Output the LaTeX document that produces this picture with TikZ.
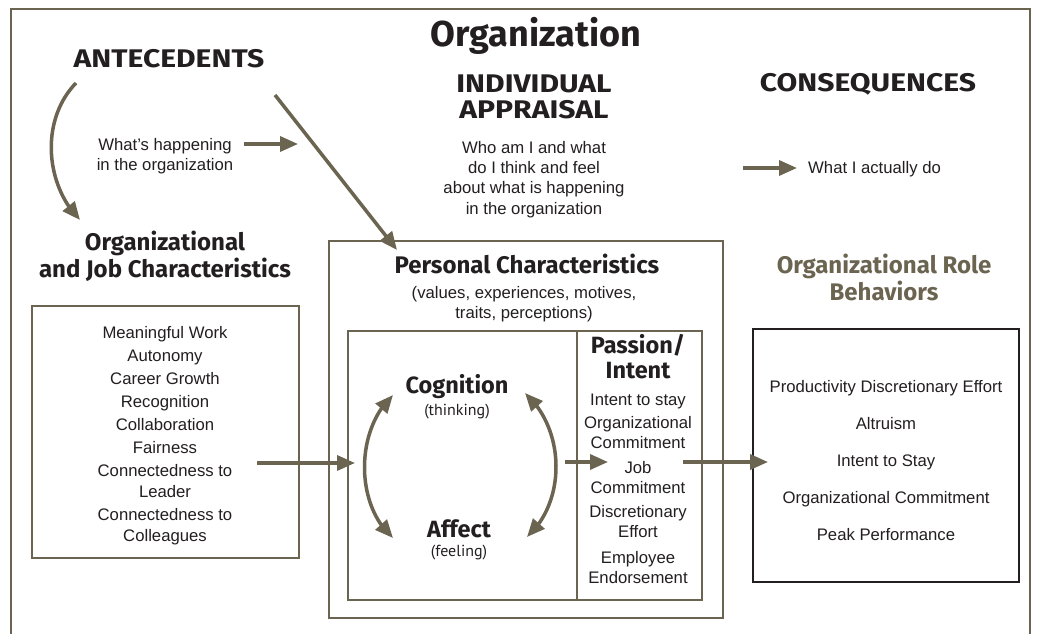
\documentclass[tikz,border=0pt]{standalone}
\usepackage{fontspec}
\setmainfont{Liberation Sans}
\newfontfamily\hf{Fira Sans}
\newfontfamily\hfw[FakeStretch=1.18]{Fira Sans}
\newfontfamily\pf{PT Sans}
\usetikzlibrary{arrows.meta,bending}
\definecolor{olive}{HTML}{6B6451}
\definecolor{ink}{HTML}{231F20}
\begin{document}
\begin{tikzpicture}[x=1pt,y=-1pt,
 title/.style={font=\hf\bfseries\fontsize{36}{36}\selectfont, text=ink, inner sep=0pt, anchor=base},
 head/.style={font=\hfw\bfseries\fontsize{25.5}{26}\selectfont, text=ink, inner sep=0pt, align=center, anchor=base},
 sub/.style={font=\hf\bfseries\fontsize{24}{27}\selectfont, text=ink, inner sep=0pt, align=center, anchor=base},
 mid/.style={font=\hf\bfseries\fontsize{23.5}{25}\selectfont, text=ink, inner sep=0pt, align=center, anchor=base},
 par/.style={font=\pf\fontsize{16}{18}\selectfont, text=ink, inner sep=0pt, anchor=base},
 body/.style={font=\fontsize{16.7}{20}\selectfont, text=ink, inner sep=0pt, align=center, anchor=base},
 frame/.style={draw=olive, line width=2pt},
 arr/.style={draw=olive, line width=3.5pt, -{Triangle[length=18pt,width=15pt]}},
 darr/.style={draw=olive, line width=3.5pt, {Triangle[length=18pt,width=15pt]}-{Triangle[length=18pt,width=15pt]}}
]
\useasboundingbox (0,0) rectangle (1042,634);
\fill[white] (0,0) rectangle (1042,634);
% outer frame
\draw[frame] (11,634) -- (11,9) -- (1030,9) -- (1030,634);

% titles
\node[title] (org) at (536,47) {Organization};
\node[head] (ante) at (169,67) {ANTECEDENTS};
\node[head] (indiv) at (534,118) {INDIVIDUAL\\APPRAISAL};
\node[head] (cons) at (868,92) {CONSEQUENCES};

% explanatory texts
\node[body] (happen) at (165,170) {What’s happening\\in the organization};
\node[body, font=\fontsize{16.7}{20.3}\selectfont] (who) at (534,214) {Who am I and what\\do I think and feel\\about what is happening\\in the organization};
\node[body, anchor=base west] (actually) at (808,173) {What I actually do};

% section headings
\node[sub] (ojc) at (165,277) {Organizational\\and Job Characteristics};
\node[sub] (pc) at (527,273) {Personal Characteristics};
\node[body] (pcsub) at (524,318) {(values, experiences, motives,\\traits, perceptions)};
\node[sub, text=olive] (orb) at (884,300) {Organizational Role\\Behaviors};

% boxes
\draw[frame] (32,306) rectangle (299,558);
\draw[frame] (329,241) rectangle (723,618);
\draw[frame, line width=2.4pt] (348,331) rectangle (702,600);
\draw[frame, line width=2.4pt] (577,331) -- (577,600);
\draw[draw=ink, line width=2.4pt] (753,329) rectangle (1019,582);

% org box list
\node[body, font=\fontsize{16.7}{21}\selectfont] (ojclist) at (165,541) {Meaningful Work\\[2pt]Autonomy\\[2pt]Career Growth\\[2pt]Recognition\\[2pt]Collaboration\\[2pt]Fairness\\[2pt]Connectedness to\\Leader\\[2pt]Connectedness to\\Colleagues};

% cognition / affect
\node[mid] (cog) at (457,393) {Cognition};
\node[par] (think) at (457,415) {(thinking)};
\node[mid] (aff) at (459,537) {Affect};
\node[par] (feel) at (459,556) {(feeling)};

% passion / intent
\node[mid] (pass) at (638,378) {Passion/\\Intent};
\node[body] (passlist) at (638,583) {Intent to stay\\[3pt]Organizational\\Commitment\\[5pt]Job\\Commitment\\[4pt]Discretionary\\Effort\\[6pt]Employee\\Endorsement};

% role behaviors list
\node[body, font=\fontsize{16.7}{37}\selectfont] (orblist) at (886,540) {Productivity Discretionary Effort\\Altruism\\Intent to Stay\\Organizational Commitment\\Peak Performance};

% coordinates for connectors
\coordinate (a1) at (76,83);
\coordinate (a2) at (80,220);
\coordinate (d1) at (275,95);
\coordinate (d2) at (397,250);
\coordinate (h1) at (244,144);
\coordinate (h2) at (298,144);
\coordinate (w1) at (743,168);
\coordinate (w2) at (797,168);
\coordinate (o1) at (257,463);
\coordinate (o2) at (355,463);
\coordinate (j1) at (565,462);
\coordinate (j2) at (608,462);
\coordinate (r1) at (683,462);
\coordinate (r2) at (768,462);
\coordinate (cl1) at (393,395);
\coordinate (cl2) at (393,538);
\coordinate (cr1) at (525,393);
\coordinate (cr2) at (527,537);

% connectors
\draw[arr] (a1) .. controls (40,120) and (45,185) .. (a2);
\draw[arr] (d1) -- (d2);
\draw[arr] (h1) -- (h2);
\draw[arr] (w1) -- (w2);
\draw[arr] (o1) -- (o2);
\draw[arr] (j1) -- (j2);
\draw[arr] (r1) -- (r2);
\draw[darr] (cl1) .. controls (355,430) and (355,505) .. (cl2);
\draw[darr] (cr1) .. controls (566,430) and (566,502) .. (cr2);
\end{tikzpicture}
\end{document}
